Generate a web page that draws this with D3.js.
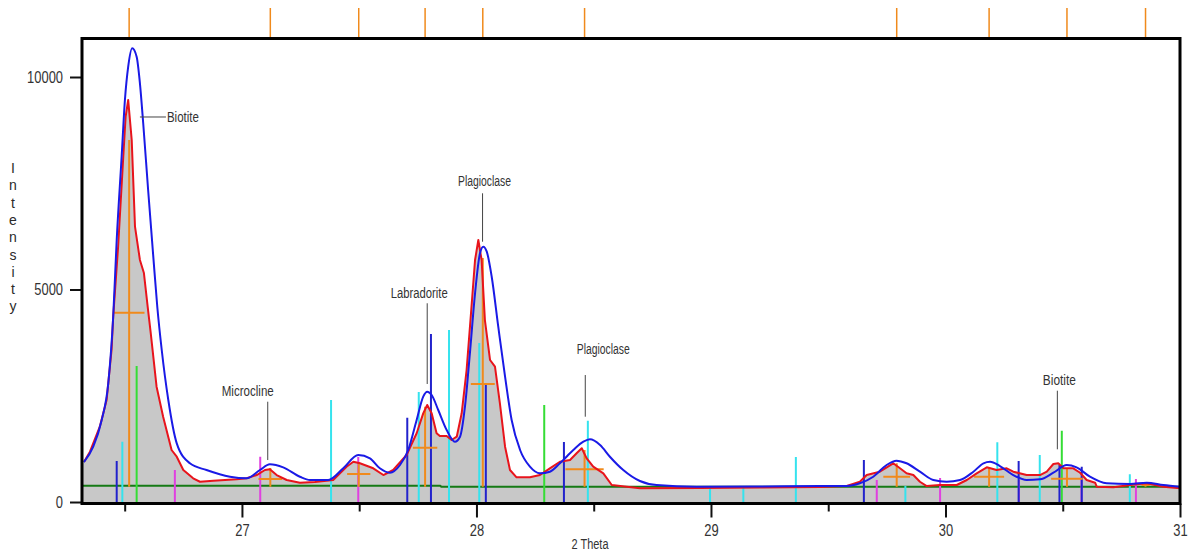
<!DOCTYPE html>
<html>
<head>
<meta charset="utf-8">
<script src="https://cdn.jsdelivr.net/npm/d3@7"></script>
<style>
  html, body { margin: 0; padding: 0; background: #ffffff; }
  svg { display: block; }
  text { font-family: "Liberation Sans", Arial, sans-serif; fill: #333; }
</style>
</head>
<body>
<svg id="chart" width="1193" height="560"></svg>
<script>
// ---- Observed pattern (2θ, counts) ----
const obsTheta = [26.327,26.352,26.394,26.423,26.444,26.451,26.472,26.494,26.504,26.515,26.530,26.544,26.565,26.582,26.598,26.611,26.636,26.664,26.700,26.722,26.750,26.792,26.821,26.878,26.977,27.020,27.063,27.098,27.119,27.148,27.191,27.247,27.311,27.389,27.446,27.475,27.503,27.560,27.603,27.645,27.702,27.745,27.773,27.790,27.809,27.830,27.844,27.873,27.894,27.916,27.937,27.958,27.980,27.994,28.008,28.022,28.036,28.058,28.079,28.100,28.122,28.143,28.171,28.228,28.271,28.313,28.356,28.399,28.427,28.449,28.470,28.498,28.541,28.577,28.641,28.697,28.953,29.209,29.465,29.579,29.635,29.664,29.720,29.777,29.806,29.834,29.863,29.891,29.920,29.977,30.048,30.091,30.133,30.176,30.218,30.261,30.289,30.346,30.403,30.432,30.460,30.481,30.503,30.545,30.574,30.602,30.638,30.645,30.716,30.787,30.858,30.929,31.000];
const obsCounts = [948,1184,1772,2400,3577,4360,6007,8125,9066,9459,8518,6478,5694,5388,4595,3977,2713,2007,1224,1066,753,558,477,501,534,558,635,753,769,635,518,454,471,518,831,948,911,793,635,753,1106,1617,2087,2282,2087,1617,1553,1553,1459,1537,2087,3106,4676,5694,6165,5694,4282,3341,3184,2322,1301,753,581,581,635,793,948,988,1146,1264,1028,831,675,400,360,322,329,341,353,376,477,635,713,911,793,675,635,477,376,400,400,518,675,816,753,793,713,635,635,713,894,911,793,793,689,518,454,360,346,400,440,360,322];

// ---- Calculated profile (2θ, counts) ----
const calcTheta = [26.326,26.366,26.402,26.430,26.451,26.466,26.487,26.501,26.515,26.532,26.551,26.565,26.579,26.600,26.622,26.639,26.658,26.686,26.722,26.778,26.849,26.949,27.020,27.077,27.119,27.176,27.247,27.290,27.368,27.432,27.496,27.546,27.588,27.631,27.674,27.709,27.745,27.773,27.790,27.809,27.837,27.873,27.908,27.930,27.951,27.972,27.994,28.015,28.029,28.044,28.065,28.093,28.122,28.150,28.186,28.228,28.271,28.313,28.356,28.413,28.456,28.484,28.527,28.569,28.626,28.697,28.768,28.939,29.209,29.465,29.579,29.635,29.692,29.749,29.791,29.834,29.891,29.948,30.005,30.062,30.119,30.162,30.190,30.232,30.289,30.346,30.403,30.460,30.517,30.559,30.616,30.687,30.787,30.858,30.929,31.000];
const calcCounts = [941,1301,1929,2793,4360,6165,8125,9459,10243,10676,10478,9852,8911,7341,5772,4595,3577,2400,1381,911,753,595,558,753,887,816,595,518,518,793,1106,1028,793,689,871,1224,1929,2478,2595,2518,2165,1694,1419,1537,2242,3499,4911,5852,6007,5890,5301,4125,2948,1929,1224,831,675,713,911,1224,1419,1475,1341,1066,753,494,400,360,365,376,376,440,595,871,972,911,713,518,477,518,713,911,948,847,635,518,534,689,871,816,595,440,424,454,400,360];

// ---- Background ----
const bgTheta = [26.318, 27.845, 27.850, 31.000];
const bgCounts = [385, 385, 362, 360];

// ---- Reference phase sticks (2θ, relative counts) ----
const navyTheta   = [26.466, 27.705, 27.806, 28.040, 28.373, 29.652, 30.312, 30.486, 30.581];
const navyCounts  = [965, 1984, 3953, 2800, 1412, 988, 965, 870, 830];
const cyanTheta   = [26.490, 27.380, 27.754, 27.883, 28.012, 28.475, 28.996, 29.138, 29.362, 29.829, 30.221, 30.402, 30.786];
const cyanCounts  = [1419, 2400, 2588, 4047, 3741, 1913, 376, 376, 1059, 376, 1405, 1106, 652];
const limeTheta   = [26.551, 28.289, 30.496];
const limeCounts  = [3200, 2282, 1678];
const pinkTheta   = [26.714, 27.078, 27.496, 29.707, 29.977, 30.313, 30.580, 30.812];
const pinkCounts  = [753, 1066, 1059, 518, 565, 518, 595, 541];

// ---- Fitted peaks: position, height, half-height level, FWHM ----
const peakTheta = [26.519, 27.121, 27.498, 27.781, 28.027, 28.461, 29.792, 30.186, 30.518, 30.853];
const peakTop   = [8518, 800, 941, 2243, 5741, 1224, 911, 816, 800, 470];
const peakHalf  = [4454, 541, 659, 1278, 2777, 769, 595, 595, 548, 400];
const peakFwhm  = [0.131, 0.101, 0.099, 0.104, 0.102, 0.163, 0.114, 0.128, 0.135, 0.034];

// ---- Phase annotations ----
const labelText  = ["Microcline", "Labradorite", "Plagioclase", "Plagioclase", "Biotite"];
const labelTheta = [27.110, 27.790, 28.026, 28.464, 30.477];
const labelLow   = [988, 2777, 6125, 2007, 1240];
const labelHigh  = [2360, 4676, 7264, 2988, 2619];
const biotiteTheta = 26.565, biotiteCounts = 9059;

// ---- Axis ticks ----
const xMajorTicks = [27, 28, 29, 30, 31];
const xMinorTicks = [26.5, 27.5, 28.5, 29.5, 30.5];
const yTicks = [0, 5000, 10000];
const yTitleLetters = "Intensity".split("");

// ---------------------------------------------------------------
const svg = d3.select("#chart");
const plot = { left: 82, right: 1180, top: 38.5, bottom: 503.5 };

const x = d3.scaleLinear().domain([26.318, 31]).range([plot.left, plot.right]);
const y = d3.scaleLinear().domain([-35, 10906]).range([plot.bottom, plot.top]);

// narrow the default sans glyphs to a condensed look
function condense(sel, factor) {
  sel.each(function () {
    const w = this.getComputedTextLength();
    d3.select(this).attr("textLength", w * factor).attr("lengthAdjust", "spacingAndGlyphs");
  });
}

svg.append("defs").append("clipPath").attr("id", "plotClip")
  .append("rect").attr("x", plot.left).attr("y", plot.top)
  .attr("width", plot.right - plot.left).attr("height", plot.bottom - plot.top);

const g = svg.append("g").attr("clip-path", "url(#plotClip)");

const obs = obsTheta.map((t, i) => [t, obsCounts[i]]);
const calc = calcTheta.map((t, i) => [t, calcCounts[i]]);
const bg = bgTheta.map((t, i) => [t, bgCounts[i]]);

// observed intensity, filled grey
g.append("path")
  .datum([[26.318, obs[0][1]], ...obs])
  .attr("fill", "#c8c8c8")
  .attr("d", d3.area().x(d => x(d[0])).y0(y(-35)).y1(d => y(d[1])));

// background
g.append("path").datum(bg)
  .attr("fill", "none").attr("stroke", "#157a15").attr("stroke-width", 2)
  .attr("d", d3.line().x(d => x(d[0])).y(d => y(d[1])));

// reference sticks
function sticks(thetas, counts, color) {
  g.append("g").selectAll("line").data(thetas).join("line")
    .attr("x1", d => x(d)).attr("x2", d => x(d))
    .attr("y1", (d, i) => y(counts[i])).attr("y2", y(-35))
    .attr("stroke", color).attr("stroke-width", 2);
}
sticks(cyanTheta, cyanCounts, "#35e3ee");
sticks(limeTheta, limeCounts, "#35dd35");
sticks(pinkTheta, pinkCounts, "#e040e0");
sticks(navyTheta, navyCounts, "#2222cc");

// fitted peak crosses
const orange = "#f08a1c";
const crosses = g.append("g");
peakTheta.forEach((t, i) => {
  crosses.append("line")
    .attr("x1", x(t)).attr("x2", x(t))
    .attr("y1", y(peakTop[i])).attr("y2", y(bgCounts[bgCounts.length - 1]))
    .attr("stroke", orange).attr("stroke-width", 2);
  crosses.append("line")
    .attr("x1", x(t - peakFwhm[i] / 2)).attr("x2", x(t + peakFwhm[i] / 2))
    .attr("y1", y(peakHalf[i])).attr("y2", y(peakHalf[i]))
    .attr("stroke", orange).attr("stroke-width", 2);
});

// observed line
g.append("path").datum(obs)
  .attr("fill", "none").attr("stroke", "#e8141c").attr("stroke-width", 2)
  .attr("stroke-linejoin", "round")
  .attr("d", d3.line().x(d => x(d[0])).y(d => y(d[1])));

// calculated line
g.append("path").datum(calc)
  .attr("fill", "none").attr("stroke", "#1a1ae6").attr("stroke-width", 2)
  .attr("d", d3.line().curve(d3.curveMonotoneX).x(d => x(d[0])).y(d => y(d[1])));

// peak markers above the frame
svg.append("g").selectAll("line").data(peakTheta).join("line")
  .attr("x1", d => x(d)).attr("x2", d => x(d))
  .attr("y1", 8).attr("y2", plot.top)
  .attr("stroke", orange).attr("stroke-width", 1.5);

// phase labels
const ann = svg.append("g");
const labelDx = [-20, -8, 2, 18, 2];
const labelGap = [6, 5, 7, 21, 6];
const labelWidth = [52, 57, 53, 53, 33];
labelText.forEach((txt, i) => {
  const lx = x(labelTheta[i]);
  ann.append("line")
    .attr("x1", lx).attr("x2", lx)
    .attr("y1", y(labelHigh[i])).attr("y2", y(labelLow[i]))
    .attr("stroke", "#444").attr("stroke-width", 1);
  ann.append("text")
    .attr("x", lx + labelDx[i])
    .attr("y", y(labelHigh[i]) - labelGap[i])
    .attr("text-anchor", "middle")
    .attr("font-size", 14)
    .attr("fill", "#2a2a2a")
    .attr("textLength", labelWidth[i]).attr("lengthAdjust", "spacingAndGlyphs")
    .text(txt);
});
ann.append("line")
  .attr("x1", x(biotiteTheta)).attr("x2", x(biotiteTheta) + 26)
  .attr("y1", y(biotiteCounts)).attr("y2", y(biotiteCounts))
  .attr("stroke", "#444").attr("stroke-width", 1);
ann.append("text")
  .attr("x", x(biotiteTheta) + 27).attr("y", y(biotiteCounts) + 5)
  .attr("font-size", 14).attr("fill", "#2a2a2a")
  .attr("textLength", 32).attr("lengthAdjust", "spacingAndGlyphs")
  .text("Biotite");

// axes
const xAxis = svg.append("g").attr("transform", `translate(0,${plot.bottom})`)
  .call(d3.axisBottom(x).tickValues(xMajorTicks).tickSize(14).tickPadding(6).tickFormat(d3.format("d")));
const xMinor = svg.append("g").attr("transform", `translate(0,${plot.bottom})`)
  .call(d3.axisBottom(x).tickValues(xMinorTicks).tickSize(8).tickFormat(""));
const yAxis = svg.append("g").attr("transform", `translate(${plot.left},0)`)
  .call(d3.axisLeft(y).tickValues(yTicks).tickSize(12).tickPadding(7).tickFormat(d3.format("d")));

[xAxis, xMinor, yAxis].forEach(a => {
  a.select(".domain").remove();
  a.selectAll(".tick line").attr("stroke", "#111").attr("stroke-width", 2);
  a.selectAll(".tick text").attr("font-size", 17).attr("fill", "#333")
    .style("font-family", '"Liberation Sans", Arial, sans-serif');
});
condense(xAxis.selectAll(".tick text"), 0.76);
condense(yAxis.selectAll(".tick text"), 0.76);

// frame
svg.append("rect")
  .attr("x", plot.left).attr("y", plot.top)
  .attr("width", plot.right - plot.left).attr("height", plot.bottom - plot.top)
  .attr("fill", "none").attr("stroke", "#000").attr("stroke-width", 3);

// axis titles
svg.append("text").attr("x", 590).attr("y", 549).attr("text-anchor", "middle")
  .attr("font-size", 14).attr("fill", "#2a2a2a")
  .attr("textLength", 37).attr("lengthAdjust", "spacingAndGlyphs")
  .text("2 Theta");
svg.append("g").selectAll("text").data(yTitleLetters).join("text")
  .attr("x", 13).attr("y", (d, i) => 173 + i * 17.3)
  .attr("text-anchor", "middle").attr("font-size", 14)
  .style("fill", "#2a2a2a")
  .text(d => d);
</script>
</body>
</html>
